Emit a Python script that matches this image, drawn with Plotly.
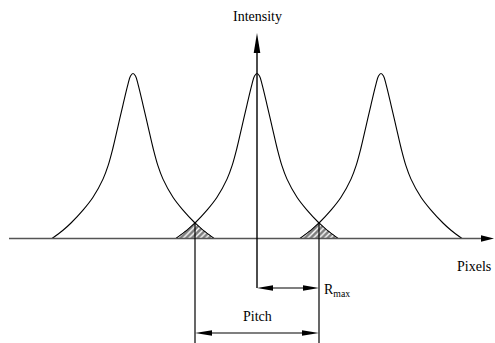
import plotly.graph_objects as go

# Three neighbouring spot profiles along the pixel axis
peak_centers = [-124, 0, 124]              # spot centres, in pixels
profile_offset = [0, 2.5, 5, 10, 15, 20, 25, 30, 40, 50, 62, 70, 81]   # distance from centre, pixels
profile_intensity = [1.0, 0.985, 0.935, 0.81, 0.68, 0.55, 0.44, 0.36,
                     0.25, 0.172, 0.094, 0.05, 0.0]                   # normalised intensity

pitch = peak_centers[1] - peak_centers[0]
r_max = pitch / 2

# plot-area geometry (pixels per data unit)
X_RANGE = [-257, 238]
Y_RANGE = [-0.6333, 1.4455]
PX_PER_Y = 165.0

FONT = dict(family="Liberation Serif, Times New Roman, serif", size=14, color="black")

fig = go.Figure()

# spot profiles (mirrored about each centre)
for c in peak_centers:
    xs = [c - d for d in reversed(profile_offset)] + [c + d for d in profile_offset[1:]]
    ys = list(reversed(profile_intensity)) + profile_intensity[1:]
    fig.add_trace(go.Scatter(x=xs, y=ys, mode="lines",
                             line=dict(color="black", width=1.1, shape="spline", smoothing=1.0),
                             hoverinfo="skip", showlegend=False))

# hatched overlap (cross-talk) regions between neighbouring spots
tail = [i for i, d in enumerate(profile_offset) if d >= r_max]
for left, right in zip(peak_centers[:-1], peak_centers[1:]):
    xs = [right - profile_offset[i] for i in reversed(tail)] + [left + profile_offset[i] for i in tail]
    ys = [profile_intensity[i] for i in reversed(tail)] + [profile_intensity[i] for i in tail]
    xs.append(xs[0])
    ys.append(ys[0])
    fig.add_trace(go.Scatter(x=xs, y=ys, mode="lines", fill="toself", line=dict(color="black", width=0.9),
                             fillcolor="white",
                             fillpattern=dict(shape="/", size=4, solidity=0.65, fgcolor="black", bgcolor="white"),
                             hoverinfo="skip", showlegend=False))


def head(tip_x, tip_y, ux, uy, length, half):
    """Filled arrowhead path; (ux, uy) is the screen direction of the tip."""
    bx = tip_x - ux * length
    by = tip_y - uy * length / PX_PER_Y
    px, py = -uy, ux
    p1 = (bx + px * half, by + py * half / PX_PER_Y)
    p2 = (bx - px * half, by - py * half / PX_PER_Y)
    return dict(type="path", path=f"M{tip_x},{tip_y} L{p1[0]},{p1[1]} L{p2[0]},{p2[1]} Z",
                xref="x", yref="y", fillcolor="black", line=dict(width=0))


def line(x0, y0, x1, y1, color="black", width=1.2):
    return dict(type="line", x0=x0, y0=y0, x1=x1, y1=y1, xref="x", yref="y",
                line=dict(color=color, width=width))


y_top = (238.5 - 33) / PX_PER_Y
y_rmax = (238.5 - 288) / PX_PER_Y
y_pitch = (238.5 - 333) / PX_PER_Y
x_axis_end = 237
crossing_h = profile_intensity[profile_offset.index(r_max)]

shapes = [
    # pixel axis
    line(-248, 0, x_axis_end - 10, 0, color="#555", width=1.5),
    head(x_axis_end, 0, 1, 0, 13, 3.2),
    # intensity axis
    line(0, y_rmax, 0, y_top - 15 / PX_PER_Y, width=1.4),
    head(0, y_top, 0, 1, 20, 3.3),
    # verticals through the crossing points
    line(-r_max, crossing_h, -r_max, Y_RANGE[0], width=1.2),
    line(r_max, crossing_h, r_max, Y_RANGE[0], width=1.2),
    # R_max dimension
    line(8, y_rmax, r_max - 8, y_rmax, width=1.1),
    head(0, y_rmax, -1, 0, 16, 2.8),
    head(r_max, y_rmax, 1, 0, 16, 2.8),
    # pitch dimension
    line(-r_max + 8, y_pitch, r_max - 8, y_pitch, width=1.1),
    head(-r_max, y_pitch, -1, 0, 17, 2.8),
    head(r_max, y_pitch, 1, 0, 17, 2.8),
]

annotations = [
    dict(x=0, y=(238.5 - 16) / PX_PER_Y, text="Intensity", showarrow=False, font=FONT,
         xanchor="center", yanchor="middle"),
    dict(x=217, y=(238.5 - 266) / PX_PER_Y, text="Pixels", showarrow=False, font=FONT,
         xanchor="center", yanchor="middle"),
    dict(x=r_max + 3, y=y_rmax - 2 / PX_PER_Y, text="R<sub>max</sub>", showarrow=False, font=FONT,
         xanchor="left", yanchor="middle"),
    dict(x=0, y=(238.5 - 316) / PX_PER_Y, text="Pitch", showarrow=False, font=FONT,
         xanchor="center", yanchor="middle"),
]

fig.update_layout(
    width=495, height=343,
    margin=dict(l=0, r=0, t=0, b=0),
    paper_bgcolor="white", plot_bgcolor="white",
    xaxis=dict(range=X_RANGE, visible=False, fixedrange=True),
    yaxis=dict(range=Y_RANGE, visible=False, fixedrange=True),
    shapes=shapes,
    annotations=annotations,
    showlegend=False,
)

fig.write_html("out.html")
